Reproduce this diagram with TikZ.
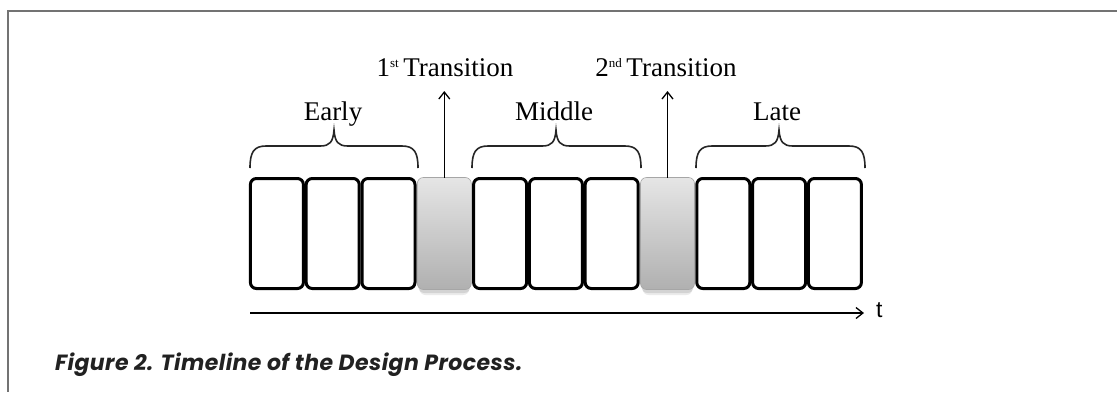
\documentclass[tikz,border=0pt]{standalone}
\usepackage{fontspec}
\setmainfont{Liberation Serif}
\newfontfamily\axisfont{Liberation Sans}
\newfontfamily\capfont{Poppins}[UprightFont=* SemiBold, ItalicFont=* Bold Italic, BoldFont=* Bold, BoldItalicFont=* Bold Italic, LetterSpace=2]
\usetikzlibrary{arrows.meta}
\newcommand{\ordsup}[1]{\raisebox{8.5bp}{\fontsize{13bp}{13bp}\selectfont #1}}
\begin{document}
\begin{tikzpicture}[x=1bp,y=-1bp,
  cell/.style={draw=black, line width=3bp, rounded corners=6bp, fill=white,
    minimum width=53bp, minimum height=110bp, inner sep=0pt, outer sep=0pt},
  phase/.style={draw=gray!70, line width=0.6bp, rounded corners=6bp,
    top color=gray!20, bottom color=gray!62,
    minimum width=54bp, minimum height=112bp, inner sep=0pt, outer sep=0pt},
  lbl/.style={font=\fontsize{27bp}{30bp}\selectfont, anchor=base, inner sep=0pt},
  tip/.style={-{Straight Barb[length=7bp,width=11bp,line width=1.3bp]}, line width=1.5bp},
  brace/.style={line width=1.6bp, draw=black!85},
  frame/.style={draw=gray!90!black, line width=2bp}]
\useasboundingbox (0,0) rectangle (1117,392);

% outer frame: top and left rules only
\draw[frame] (1117,10.5) -- (8,10.5) -- (8,392);

% timeline cells
\foreach \i/\nm in {0/c1,1/c2,2/c3,4/c5,5/c6,6/c7,8/c9,9/c10,10/c11}{
  \node[cell] (\nm) at ({249+27.9+55.8*\i},233.5) {};
}
% shadows under the transition cells
\foreach \i in {3,7}{
  \fill[black, opacity=0.10, rounded corners=6bp]
    ({249+55.8*\i+2},181) rectangle ({249+55.8*(\i+1)-2},293);
  \fill[black, opacity=0.08, rounded corners=6bp]
    ({249+55.8*\i+3},183) rectangle ({249+55.8*(\i+1)-3},295);
}
\node[phase] (g1) at ({249+27.9+55.8*3},233.5) {};
\node[phase] (g2) at ({249+27.9+55.8*7},233.5) {};

% phase braces
\foreach \a/\b/\m in {250/418/334, 472/641/556, 696/865/779}{
  \draw[brace] (\a,168) .. controls (\a,152) and (\a+4,146) .. (\a+16,146)
    -- (\m-14,146) .. controls (\m-4,146) and (\m-1,142) .. (\m,130)
    .. controls (\m+1,142) and (\m+4,146) .. (\m+14,146)
    -- (\b-16,146) .. controls (\b-4,146) and (\b,152) .. (\b,168);
}
\node[lbl] (early) at (333,120) {Early};
\node[lbl] (middle) at (554,120) {Middle};
\node[lbl] (late) at (777,120) {Late};

% transitions
\node[lbl] (tr1) at (445,76) {1\ordsup{st}\,Transition};
\node[lbl] (tr2) at (666,76) {2\ordsup{nd}\,Transition};
\coordinate (a1) at (g1.north |- 0,91);
\coordinate (a2) at (g2.north |- 0,91);
\draw[tip] (g1.north) -- (a1);
\draw[tip] (g2.north) -- (a2);

% time axis
\coordinate (ax0) at (250,313);
\coordinate (ax1) at (864,313);
\draw[tip] (ax0) -- (ax1);
\node[font=\axisfont\fontsize{23bp}{26bp}\selectfont, anchor=base west, inner sep=0pt] (t) at (876,317) {t};

% caption
\node[font=\capfont\fontsize{22bp}{25bp}\selectfont\itshape, text=black!87, anchor=base west, inner sep=0pt] (cap) at (55,370) {Figure 2. Timeline of the Design Process.};
\end{tikzpicture}
\end{document}
